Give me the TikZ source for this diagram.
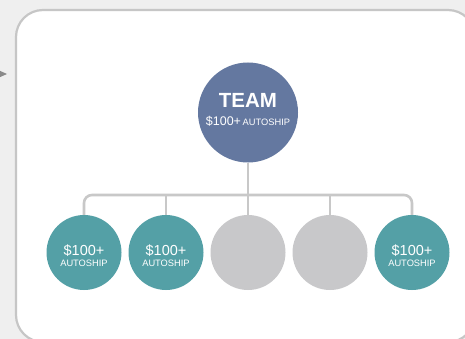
\documentclass[tikz,border=0pt]{standalone}
\usepackage{fontspec}
\setmainfont{Liberation Sans}
\definecolor{bgc}{HTML}{EFEFEF}
\definecolor{framec}{HTML}{C6C6C6}
\definecolor{teamc}{HTML}{6478A0}
\definecolor{tealc}{HTML}{54A0A6}
\definecolor{greyc}{HTML}{C8C8CA}
\definecolor{linkc}{HTML}{C8C8C8}
\definecolor{arrowc}{HTML}{8A8A8A}
\begin{document}
\begin{tikzpicture}[x=1pt,y=-1pt,
  big/.style={circle,fill=teamc,draw=none,minimum size=100pt,inner sep=0pt},
  member/.style={circle,fill=tealc,draw=none,minimum size=75pt,inner sep=0pt},
  empty/.style={circle,fill=greyc,draw=none,minimum size=75pt,inner sep=0pt},
  link/.style={draw=linkc,line width=2.6pt},
  txt/.style={text=white,inner sep=0pt,anchor=base},
  amt/.style={txt,font=\fontsize{14.5}{16}\selectfont},
  auto/.style={txt,font=\fontsize{9.3}{11}\selectfont}]
\useasboundingbox (0,0) rectangle (465,339);
\fill[bgc] (0,0) rectangle (465,339);
\begin{scope}
\clip (0,0) rectangle (465,339);
\draw[framec,line width=2.2pt,fill=white,rounded corners=27pt] (16,10) rectangle (475,342);
\fill[arrowc] (-2,70) -- (7,74) -- (-2,78) -- cycle;
\end{scope}
% circles
\node[big] (team) at (248,112.5) {};
\node[member] (c1) at (84,252.5) {};
\node[member] (c2) at (166,252.5) {};
\node[empty] (c3) at (248,252.5) {};
\node[empty] (c4) at (330,252.5) {};
\node[member] (c5) at (412,252.5) {};
% connectors
\coordinate (bar) at (248,195);
\draw[link] (team.south) -- (c3.north);
\draw[link,rounded corners=8pt] (c1.north) -- (c1.north |- bar) -- (c5.north |- bar) -- (c5.north);
\draw[link] (c2.north) -- (c2.north |- bar);
\draw[link] (c4.north) -- (c4.north |- bar);
% texts
\node[txt,font=\bfseries\fontsize{20.5}{22}\selectfont] (teamt) at (248,108) {TEAM};
\node[txt] (teama) at (248,126) {{\fontsize{12.5}{14}\selectfont \$100+}\,{\fontsize{9.3}{11}\selectfont AUTOSHIP}};
\node[amt] (a1) at (84,255) {\$100+};
\node[auto] (b1) at (84,266) {AUTOSHIP};
\node[amt] (a2) at (166,255) {\$100+};
\node[auto] (b2) at (166,266) {AUTOSHIP};
\node[amt] (a5) at (412,255) {\$100+};
\node[auto] (b5) at (412,266) {AUTOSHIP};
\end{tikzpicture}
\end{document}
